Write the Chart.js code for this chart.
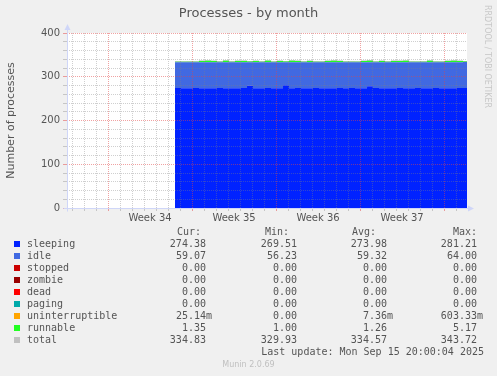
<!DOCTYPE html>
<html>
<head>
<meta charset="utf-8">
<script src="https://cdn.jsdelivr.net/npm/chart.js@4"></script>
<style>
  body { margin: 0; background: #f0f0f0; }
  #wrap { position: relative; width: 497px; height: 376px; background: #f0f0f0; overflow: hidden; }
  #myChart { position: absolute; left: 0; top: 0; }
  .t { position: absolute; white-space: pre; color: #555; }
  #title { left: 0; width: 497px; top: 5px; text-align: center; font: 13px 'DejaVu Sans'; line-height: 16px; }
  #rrd { left: 492px; top: 5px; font: 8px 'DejaVu Sans'; line-height: 9px; color: #c8c8c8; transform: rotate(90deg); transform-origin: 0 0; }
  .row { position: absolute; left: 0; width: 497px; height: 12px; font: 10px 'DejaVu Sans Mono'; line-height: 12px; color: #555; }
  .row span { position: absolute; white-space: pre; top: 0; }
  .sq { position: absolute; left: 14px; top: 3px; width: 6px; height: 6px; }
  #munin { left: 0; width: 497px; text-align: center; top: 359px; font: 8px 'DejaVu Sans'; line-height: 12px; color: #c0c0c0; }
</style>
</head>
<body>
<div id="wrap">
  <canvas id="myChart" width="497" height="376"></canvas>
  <div class="t" id="title">Processes - by month</div>
  <div class="t" id="rrd">RRDTOOL / TOBI OETIKER</div>
  <div id="legend"></div>
  <div class="t" id="munin">Munin 2.0.69</div>
</div>
<script>
// time axis in days from the left edge of the graph (33.33 days wide)
const xMax = 33.33;
const weekStart = 3.42;          // first week boundary
const weekLabels = ['Week 34', 'Week 35', 'Week 36', 'Week 37'];
const yLabels = [0, 100, 200, 300, 400];

const days = [9, 9.5, 10, 10.5, 11, 11.5, 12, 12.5, 13, 13.5,
  14, 14.5, 15, 15.5, 16, 16.5, 17, 17.5, 18, 18.5,
  19, 19.5, 20, 20.5, 21, 21.5, 22, 22.5, 23, 23.5,
  24, 24.5, 25, 25.5, 26, 26.5, 27, 27.5, 28, 28.5,
  29, 29.5, 30, 30.5, 31, 31.5, 32, 32.5, 33, 33.33];

const sleeping = [274.1, 273.8, 274.0, 274.2, 273.9, 273.7, 274.0, 274.3, 273.8, 274.0,
  273.9, 274.1, 279.5, 274.0, 273.8, 274.2, 273.9, 274.0, 280.6, 273.7,
  274.1, 273.9, 274.0, 274.3, 273.8, 274.0, 273.6, 274.1, 273.9, 274.2,
  274.0, 273.8, 278.4, 274.1, 273.9, 274.0, 273.7, 274.2, 274.0, 273.8,
  274.1, 273.9, 274.0, 274.3, 273.8, 274.0, 273.9, 274.1, 274.4, 274.4];
const idle = [59.2, 59.5, 59.3, 59.0, 59.4, 59.6, 59.3, 59.0, 59.5, 59.3,
  59.4, 59.2, 53.9, 59.3, 59.5, 59.1, 59.4, 59.3, 52.8, 59.6,
  59.2, 59.4, 59.3, 59.0, 59.5, 59.3, 59.7, 59.2, 59.4, 59.1,
  59.3, 59.5, 55.0, 59.2, 59.4, 59.3, 59.6, 59.1, 59.3, 59.5,
  59.2, 59.4, 59.3, 59.0, 59.5, 59.3, 59.4, 59.2, 59.07, 59.07];
const zeros = [0, 0, 0, 0, 0, 0, 0, 0, 0, 0,
  0, 0, 0, 0, 0, 0, 0, 0, 0, 0,
  0, 0, 0, 0, 0, 0, 0, 0, 0, 0,
  0, 0, 0, 0, 0, 0, 0, 0, 0, 0,
  0, 0, 0, 0, 0, 0, 0, 0, 0, 0];
const runnable = [1.1, 1.0, 1.2, 1.1, 2.9, 3.1, 2.6, 1.2, 3.2, 1.1,
  2.8, 2.9, 1.2, 2.7, 1.1, 3.0, 1.0, 2.8, 1.2, 3.1,
  2.8, 1.1, 2.9, 1.2, 1.0, 2.8, 3.2, 2.7, 1.1, 1.2,
  1.0, 2.8, 3.3, 1.1, 2.8, 1.2, 2.9, 2.8, 3.0, 1.1,
  1.0, 1.2, 3.0, 1.1, 1.0, 2.8, 3.1, 2.7, 1.35, 1.35];
const total = [334.4, 334.3, 334.5, 334.3, 336.2, 336.4, 335.9, 334.5, 336.5, 334.4,
  336.1, 336.2, 334.6, 336.0, 334.4, 336.3, 334.3, 336.1, 334.6, 336.4,
  336.1, 334.4, 336.2, 334.5, 334.3, 336.1, 336.5, 336.0, 334.4, 334.5,
  334.3, 336.1, 336.7, 334.4, 336.1, 334.5, 336.2, 336.1, 336.3, 334.4,
  334.3, 334.5, 336.3, 334.4, 334.3, 336.1, 336.4, 336.0, 334.82, 334.82];

// legend table
const names = ['sleeping', 'idle', 'stopped', 'zombie', 'dead', 'paging', 'uninterruptible', 'runnable', 'total'];
const colors = ['#0022ff', '#4169e1', '#cc0000', '#990000', '#ff0000', '#00aaaa', '#ffa500', '#22ff22', '#c0c0c0'];
const curVals = ['274.38', '59.07', '0.00', '0.00', '0.00', '0.00', '25.14m', '1.35', '334.83'];
const minVals = ['269.51', '56.23', '0.00', '0.00', '0.00', '0.00', '0.00', '1.00', '329.93'];
const avgVals = ['273.98', '59.32', '0.00', '0.00', '0.00', '0.00', '7.36m', '1.26', '334.57'];
const maxVals = ['281.21', '64.00', '0.00', '0.00', '0.00', '0.00', '603.33m', '5.17', '343.72'];
const headers = ['Cur:', 'Min:', 'Avg:', 'Max:'];
const lastUpdate = 'Last update: Mon Sep 15 20:00:04 2025';

const minorCol = 'rgba(128,128,128,0.38)';
const majorCol = 'rgba(225,70,70,0.5)';

function pts(vals) {
  return days.map((d, i) => ({ x: d, y: vals[i] }));
}

const seriesVals = [sleeping, idle, zeros, zeros, zeros, zeros, zeros, runnable];
const datasets = seriesVals.map((vals, i) => ({
  label: names[i],
  data: pts(vals),
  backgroundColor: colors[i],
  borderColor: vals === zeros ? 'rgba(0,0,0,0)' : colors[i],
  borderWidth: 0,
  fill: i === 0 ? 'origin' : '-1',
  stepped: true,
  stack: 'procs',
  order: 0
}));
datasets.push({
  label: 'total',
  data: pts(total),
  borderColor: '#b8b8b8',
  borderWidth: 1,
  fill: false,
  stepped: true,
  stack: 'total',
  order: 1
});

const frame = {
  id: 'frame',
  beforeDraw(chart) {
    const { ctx, chartArea: a } = chart;
    ctx.save();
    ctx.fillStyle = '#ffffff';
    ctx.fillRect(a.left, a.top, a.right - a.left, a.bottom - a.top);
    ctx.restore();
  },
  afterDraw(chart) {
    const { ctx, chartArea: a } = chart;
    const x0 = Math.round(a.left) + 0.5, y0 = Math.round(a.bottom) + 0.5;
    ctx.save();
    ctx.strokeStyle = '#cfd6f8';
    ctx.fillStyle = '#cfd6f8';
    ctx.lineWidth = 1;
    ctx.beginPath();
    ctx.moveTo(x0, y0 + 3); ctx.lineTo(x0, a.top - 5);
    ctx.moveTo(x0 - 4, y0); ctx.lineTo(a.right + 3, y0);
    ctx.stroke();
    ctx.beginPath();
    ctx.moveTo(x0, a.top - 9); ctx.lineTo(x0 - 3, a.top - 3); ctx.lineTo(x0 + 3, a.top - 3);
    ctx.closePath(); ctx.fill();
    ctx.beginPath();
    ctx.moveTo(a.right + 7, y0); ctx.lineTo(a.right + 1, y0 - 3); ctx.lineTo(a.right + 1, y0 + 3);
    ctx.closePath(); ctx.fill();
    ctx.restore();
  }
};

Chart.defaults.font.family = 'DejaVu Sans';
Chart.defaults.color = '#555';

const ctx = document.getElementById('myChart');
const chart = new Chart(ctx, {
  type: 'line',
  data: { datasets: datasets },
  plugins: [frame],
  options: {
    responsive: false,
    animation: false,
    layout: { padding: { left: 0, right: 30, top: 33, bottom: 148 } },
    elements: { point: { radius: 0 } },
    plugins: { legend: { display: false }, tooltip: { enabled: false } },
    scales: {
      x: {
        type: 'linear',
        min: 0,
        max: xMax,
        afterBuildTicks(s) {
          const t = [];
          for (let k = 0; weekStart - 3 + k * 0.5 <= xMax; k++) t.push({ value: weekStart - 3 + k * 0.5 });
          s.ticks = t;
        },
        afterFit(s) { s.height = 20; },
        ticks: {
          autoSkip: false, maxRotation: 0, minRotation: 0, padding: 1,
          font: { size: 10 }, color: '#555',
          callback(v) {
            const w = (v - weekStart - 3.5) / 7;
            const k = Math.round(w);
            if (Math.abs(w - k) < 0.01 && k >= 0 && k < weekLabels.length) return weekLabels[k];
            return '';
          }
        },
        grid: {
          z: 1, tickLength: 3,
          color(c) {
            if (!c.tick) return minorCol;
            const r = c.tick.value - weekStart;
            if (Math.abs(r - Math.round(r)) > 0.01) return 'rgba(0,0,0,0)';
            return Math.round(r) % 7 === 0 ? majorCol : minorCol;
          }
        },
        border: { display: false, dash: [1, 1] }
      },
      y: {
        stacked: true,
        min: 0,
        max: 400,
        afterFit(s) { s.width = 67; },
        ticks: {
          stepSize: 20, padding: 3, autoSkip: false, font: { size: 10 }, color: '#555',
          callback(v) { return yLabels.includes(v) ? String(v) : ''; }
        },
        title: {
          display: true, text: 'Number of processes', color: '#555',
          font: { size: 11 }, padding: { top: 5, bottom: 0 }
        },
        grid: {
          z: 1, tickLength: 4,
          color(c) {
            if (!c.tick) return minorCol;
            return yLabels.includes(c.tick.value) ? majorCol : minorCol;
          }
        },
        border: { display: false, dash: [1, 1] }
      }
    }
  }
});

// legend rows below the graph
const legend = document.getElementById('legend');
const colRight = [212, 303, 393, 483];
const headLeft = [177, 265, 352, 453];
function addRow(centerY) {
  const r = document.createElement('div');
  r.className = 'row';
  r.style.top = (centerY - 6) + 'px';
  legend.appendChild(r);
  return r;
}
function addSpan(row, text, css) {
  const s = document.createElement('span');
  s.textContent = text;
  Object.assign(s.style, css);
  row.appendChild(s);
}
const head = addRow(232);
headers.forEach((h, j) => addSpan(head, h, { left: headLeft[j] + 'px' }));
names.forEach((n, i) => {
  const row = addRow(244 + 12 * i);
  const sq = document.createElement('div');
  sq.className = 'sq';
  sq.style.background = colors[i];
  row.appendChild(sq);
  addSpan(row, n, { left: '27px' });
  [curVals, minVals, avgVals, maxVals].forEach((col, j) => {
    const v = col[i];
    addSpan(row, /m$/.test(v) ? v : v + ' ', { right: (497 - colRight[j]) + 'px' });
  });
});
const upd = addRow(352);
addSpan(upd, lastUpdate, { right: (497 - 484) + 'px' });
</script>
</body>
</html>
